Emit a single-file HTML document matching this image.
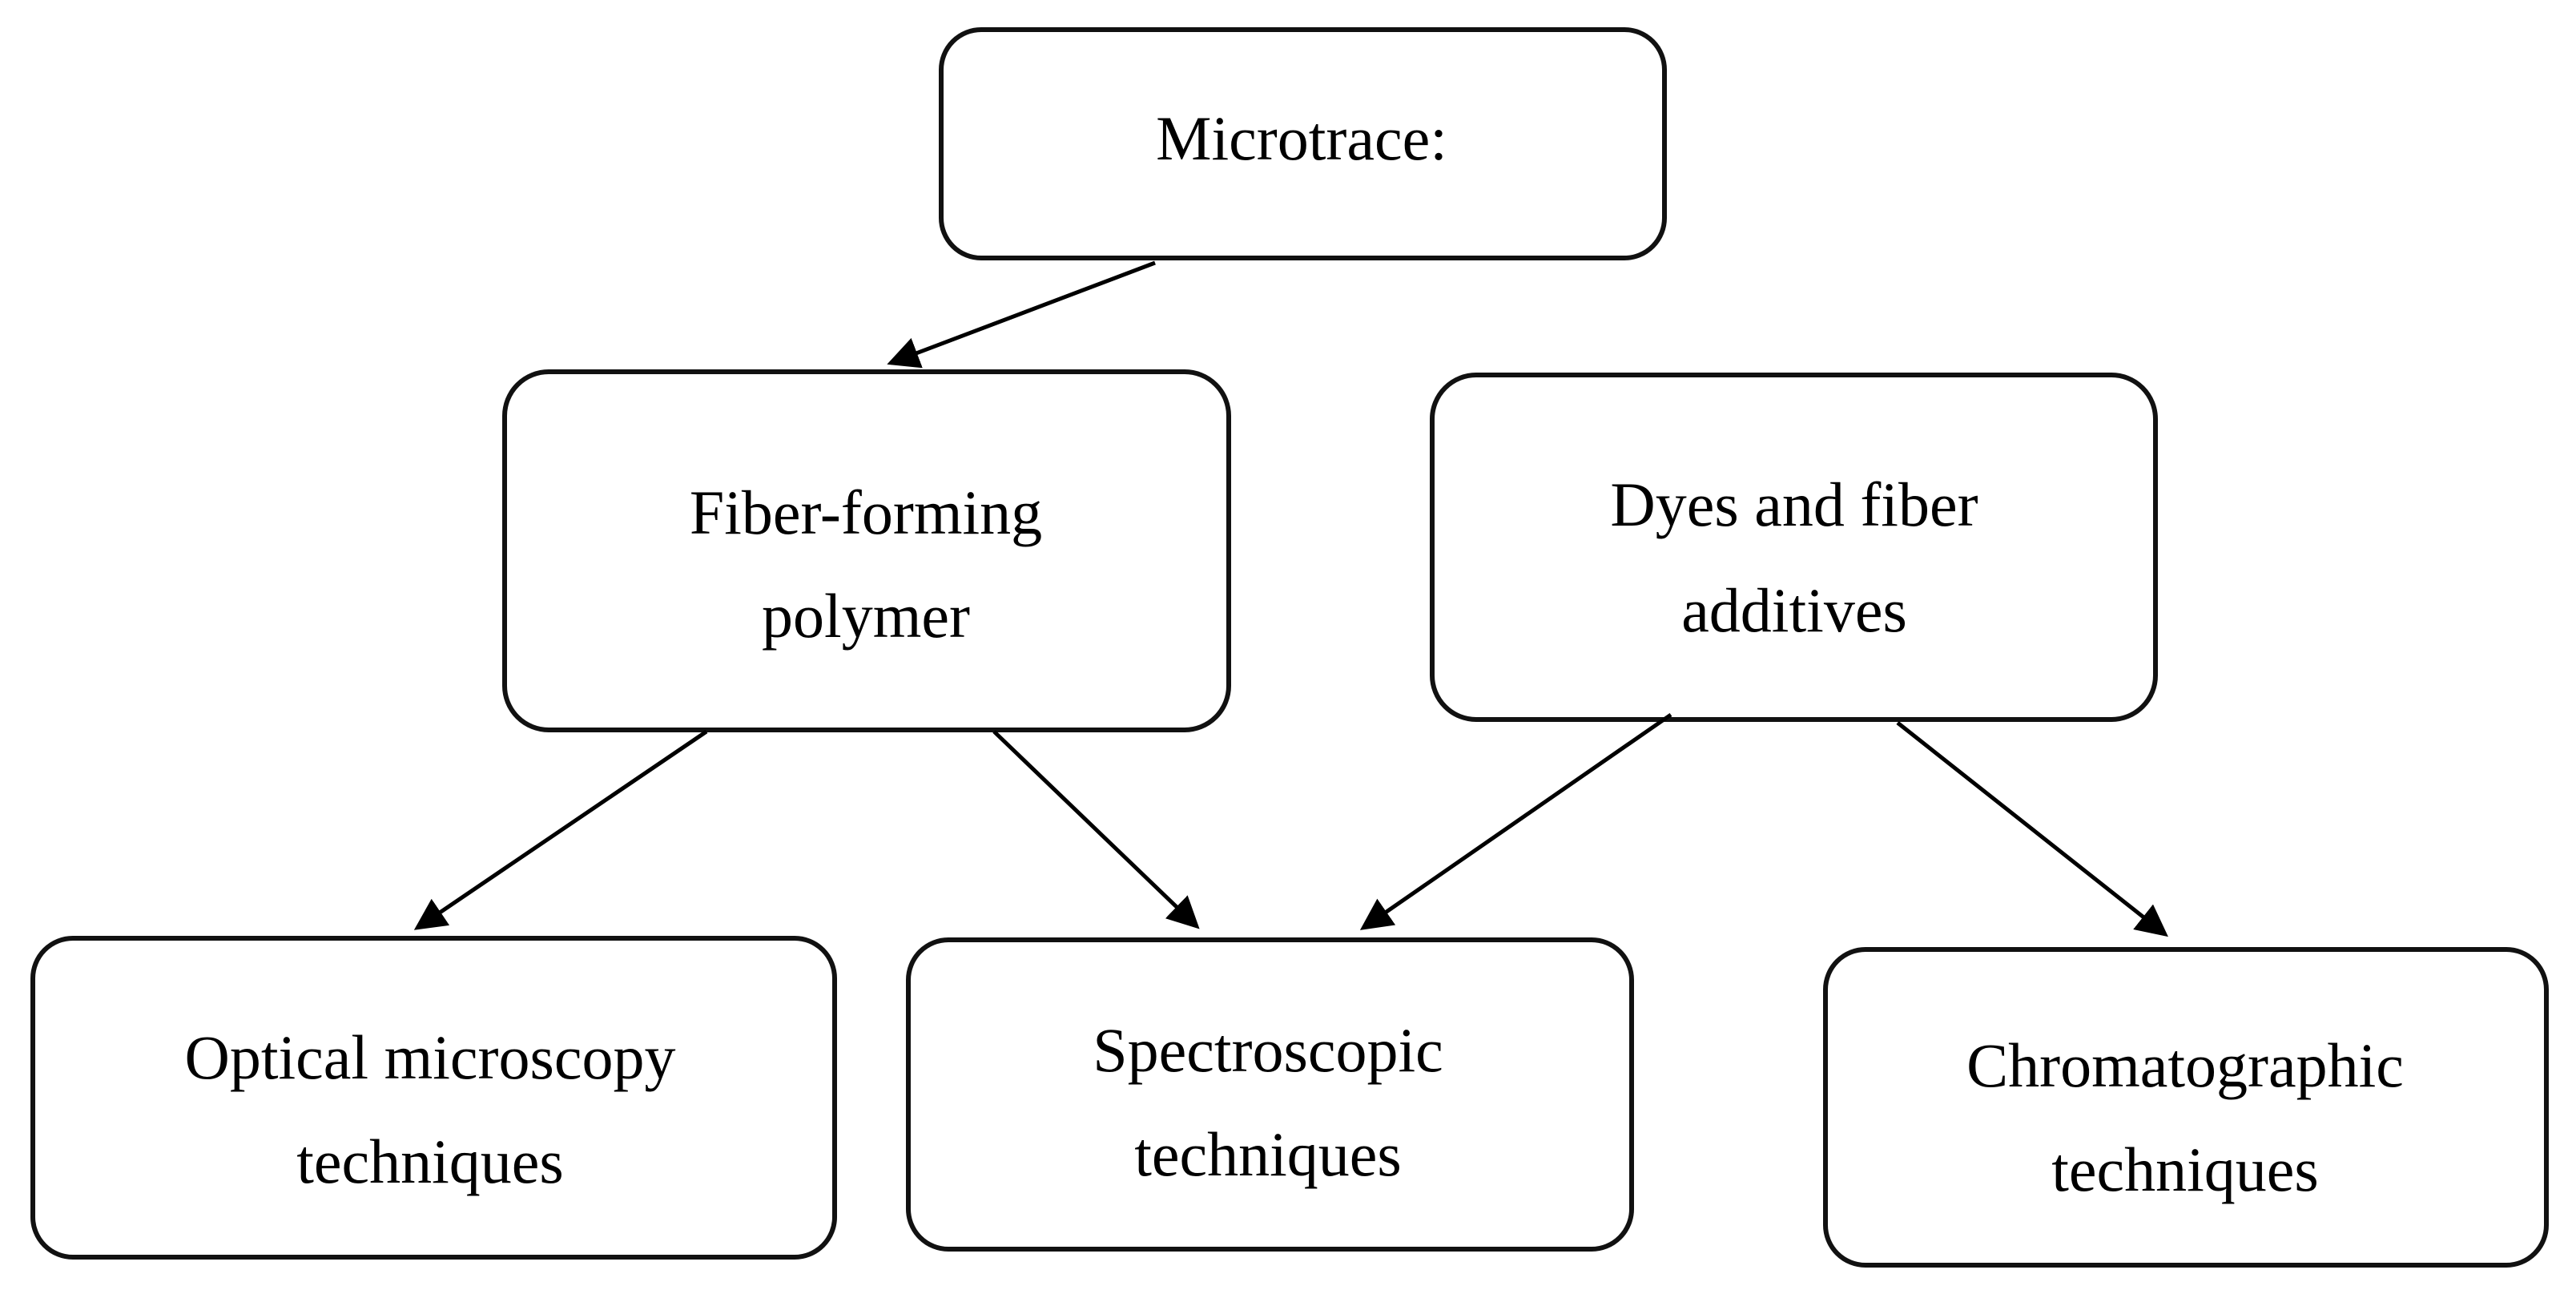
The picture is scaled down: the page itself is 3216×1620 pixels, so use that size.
<!DOCTYPE html>
<html><head><meta charset="utf-8"><style>html,body{margin:0;padding:0;background:#fff;}svg{display:block}</style></head>
<body>
<svg width="3216" height="1620" viewBox="0 0 3216 1620" xmlns="http://www.w3.org/2000/svg">
<defs><marker id="a" markerWidth="8" markerHeight="8" refX="7" refY="4" orient="auto" markerUnits="strokeWidth"><path d="M0,0 L8,4 L0,8 z" fill="#000"/></marker></defs>
<g fill="#fff" stroke="#111" stroke-width="6">
<rect x="1175" y="37" width="903" height="285" rx="50"/>
<rect x="630" y="464" width="904" height="447" rx="55"/>
<rect x="1788" y="468" width="903" height="430" rx="55"/>
<rect x="41" y="1171" width="1001" height="398" rx="50"/>
<rect x="1134" y="1173" width="903" height="386" rx="50"/>
<rect x="2279" y="1185" width="900" height="394" rx="50"/>
</g>
<g stroke="#000" stroke-width="5" marker-end="url(#a)">
<line x1="1442" y1="328" x2="1112" y2="453"/>
<line x1="882" y1="913" x2="521" y2="1158"/>
<line x1="1241" y1="913" x2="1494" y2="1156"/>
<line x1="2086" y1="892" x2="1702" y2="1158"/>
<line x1="2369" y1="902" x2="2703" y2="1166"/>
</g>
<g font-family="Liberation Serif, serif" font-size="78" text-anchor="middle" fill="#000">
<text x="1625" y="199">Microtrace:</text>
<text x="1081" y="666">Fiber-forming</text>
<text x="1081" y="795">polymer</text>
<text x="2240" y="656">Dyes and fiber</text>
<text x="2240" y="788">additives</text>
<text x="537" y="1346">Optical microscopy</text>
<text x="537" y="1476">techniques</text>
<text x="1583" y="1337">Spectroscopic</text>
<text x="1583" y="1467">techniques</text>
<text x="2728" y="1356">Chromatographic</text>
<text x="2728" y="1486">techniques</text>
</g>
</svg>
</body></html>
